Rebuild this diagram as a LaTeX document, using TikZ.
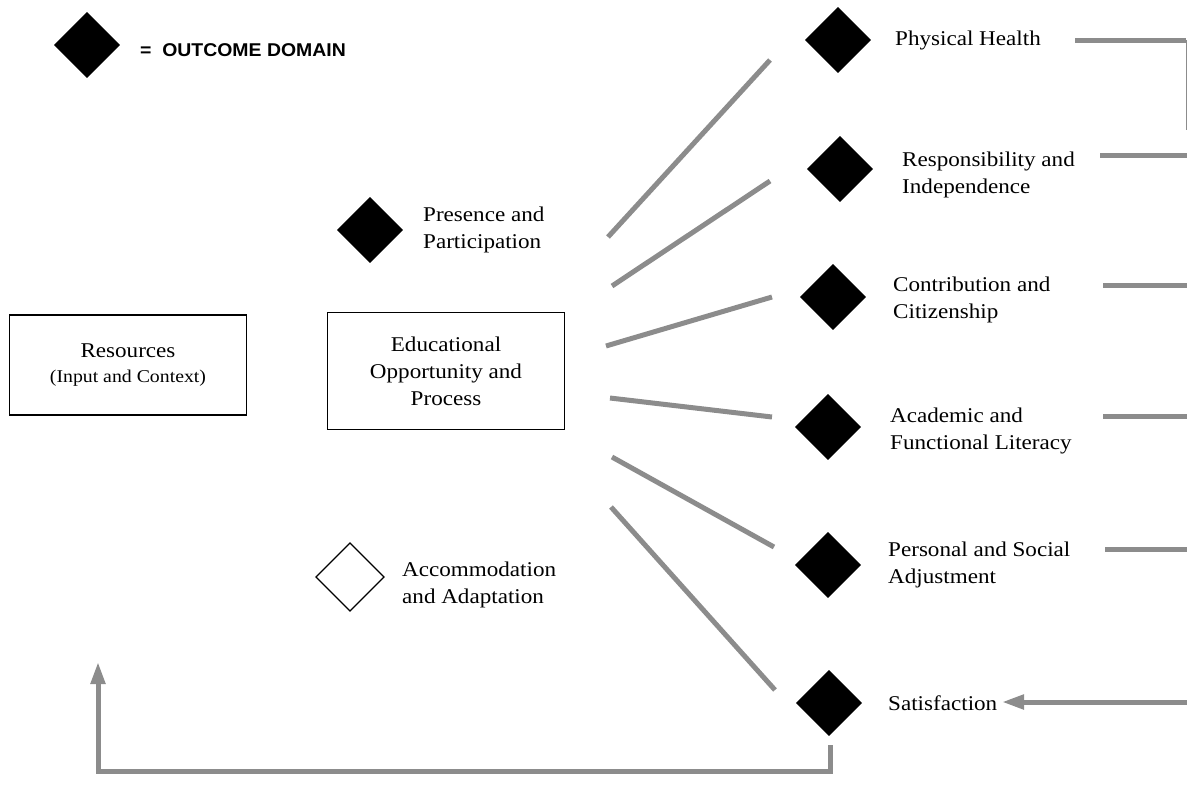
\documentclass[tikz,border=0pt]{standalone}
\usepackage{fontspec}
\setmainfont{Liberation Serif}[FakeStretch=1.1]
\newfontfamily\legendfont{Liberation Sans}[FakeStretch=1.05]
\usetikzlibrary{arrows.meta}
\tikzset{
  dom/.style={draw=black,fill=black,minimum width=46pt,minimum height=46pt,rotate=45,inner sep=0pt},
  opendom/.style={draw=black,fill=white,line width=1.3pt,minimum width=48pt,minimum height=48pt,rotate=45,inner sep=0pt},
  lbl/.style={anchor=west,align=left,font=\fontsize{21}{27}\selectfont,inner sep=0pt},
  boxnode/.style={draw=black,line width=1.2pt,align=center,font=\fontsize{21}{27}\selectfont},
  link/.style={draw=black!45,line width=5pt},
  arr/.style={link,-{Triangle[width=14pt,length=22pt]}}
}
\begin{document}
\begin{tikzpicture}[x=1pt,y=-1pt]
\useasboundingbox (0,0) rectangle (1187,804);
% legend
\node[dom] (leg) at (87,45) {};
\node[anchor=west,inner sep=0pt,font=\legendfont\bfseries\fontsize{18.5}{22}\selectfont] (legt) at (140,50) {=\ \ OUTCOME DOMAIN};
% boxes
\node[boxnode,minimum width=237pt,minimum height=100pt] (res) at (128,365) {Resources\\[-2pt]{\fontsize{18}{22}\selectfont (Input and Context)}};
\node[boxnode,minimum width=237pt,minimum height=117pt] (edu) at (446,371) {Educational\\Opportunity and\\Process};
% left domains
\node[dom] (pp) at (370,230) {};
\node[lbl] (ppt) at (423,230) {Presence and\\Participation};
\node[opendom] (aa) at (350,577) {};
\node[lbl] (aat) at (402,585) {Accommodation\\and Adaptation};
% right domains
\node[dom] (ph) at (838,40) {};
\node[lbl] (pht) at (895,40) {Physical Health};
\node[dom] (ri) at (840,169) {};
\node[lbl] (rit) at (902,175) {Responsibility and\\Independence};
\node[dom] (cc) at (833,297) {};
\node[lbl] (cct) at (893,300) {Contribution and\\Citizenship};
\node[dom] (af) at (828,427) {};
\node[lbl] (aft) at (890,431) {Academic and\\Functional Literacy};
\node[dom] (ps) at (828,565) {};
\node[lbl] (pst) at (888,565) {Personal and Social\\Adjustment};
\node[dom] (sa) at (829,703) {};
\node[lbl] (sat) at (888,703) {Satisfaction};
% fan lines
\coordinate (f1a) at (608,237); \coordinate (f1b) at (770,60);
\coordinate (f2a) at (612,286); \coordinate (f2b) at (770,181);
\coordinate (f3a) at (606,346); \coordinate (f3b) at (772,297);
\coordinate (f4a) at (610,398); \coordinate (f4b) at (772,417);
\coordinate (f5a) at (612,457); \coordinate (f5b) at (774,547);
\coordinate (f6a) at (611,507); \coordinate (f6b) at (775,690);
\foreach \i in {1,...,6} {\draw[link] (f\i a) -- (f\i b);}
% right bus lines
\coordinate (r1) at (1075,40); \coordinate (r1e) at (1186,40); \coordinate (r1d) at (1186,130);
\coordinate (r2) at (1100,155); \coordinate (r2e) at (1187,155);
\coordinate (r3) at (1103,285); \coordinate (r3e) at (1187,285);
\coordinate (r4) at (1103,416); \coordinate (r4e) at (1187,416);
\coordinate (r5) at (1105,549); \coordinate (r5e) at (1187,549);
\draw[link] (r1) -- (r1e);
\draw[draw=black!45,line width=1pt] (r1e) -- (r1d);
\draw[link] (r2) -- (r2e);
\draw[link] (r3) -- (r3e);
\draw[link] (r4) -- (r4e);
\draw[link] (r5) -- (r5e);
% satisfaction input
\coordinate (s0) at (1187,702); \coordinate (s1) at (1002,702);
\draw[arr] (s0) -- (s1);
% feedback
\coordinate (fb0) at (830,745); \coordinate (fb1) at (830,771);
\coordinate (fb2) at (98,771); \coordinate (fb3) at (98,662);
\draw[arr] (fb0) -- (fb1) -- (fb2) -- (fb3);
\end{tikzpicture}
\end{document}
